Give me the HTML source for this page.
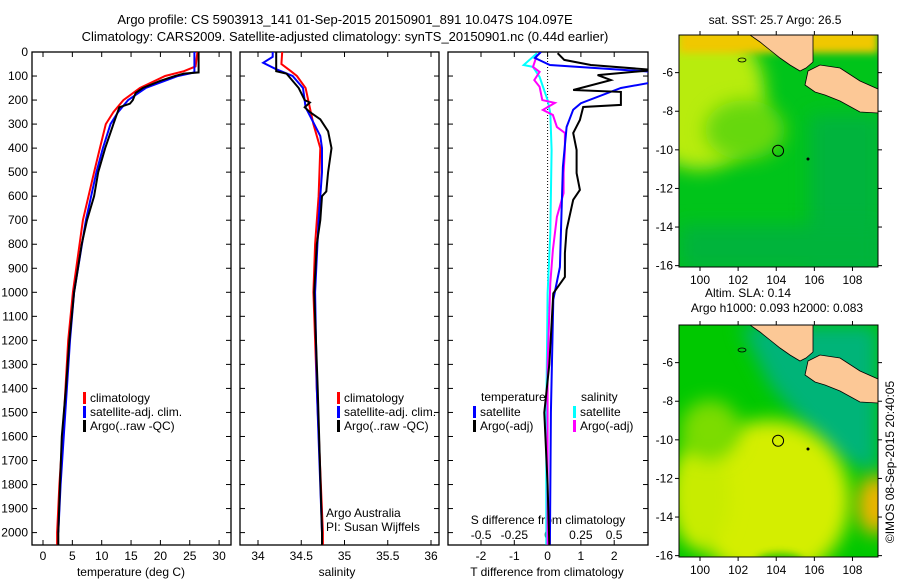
<!DOCTYPE html>
<html><head><meta charset="utf-8"><style>
body{margin:0;background:#fff}
svg{display:block;font-family:"Liberation Sans",sans-serif}
text{font-size:12px;fill:#000}
</style></head><body>
<svg id="fig" width="900" height="580" viewBox="0 0 900 580">
<defs>
<filter id="blur6" x="-50%" y="-50%" width="200%" height="200%"><feGaussianBlur stdDeviation="9"/></filter>
<filter id="blur3" x="-50%" y="-50%" width="200%" height="200%"><feGaussianBlur stdDeviation="4"/></filter>
<clipPath id="c1"><rect x="32" y="52" width="199" height="493"/></clipPath>
<clipPath id="c2"><rect x="240" y="52" width="199" height="493"/></clipPath>
<clipPath id="c3"><rect x="448" y="52" width="200" height="493"/></clipPath>
<clipPath id="m1"><rect x="679" y="35" width="199" height="232"/></clipPath>
<clipPath id="m2"><rect x="679" y="325" width="199" height="232"/></clipPath>
</defs>
<text x="345" y="24" text-anchor="middle" style="font-size:13px">Argo profile: CS 5903913_141 01-Sep-2015 20150901_891 10.047S 104.097E</text>
<text x="345" y="41" text-anchor="middle" style="font-size:13px">Climatology: CARS2009. Satellite-adjusted climatology: synTS_20150901.nc (0.44d earlier)</text>
<g id="p1"></g>
<g id="p2"></g>
<g id="p3"></g>
<g id="map1"></g>
<g id="map2"></g>
<text x="0" y="0" transform="translate(894,462) rotate(-90)" text-anchor="middle">©IMOS 08-Sep-2015 20:40:05</text>
</svg>
<script>
// ---- data ----
const depthTicks=[0,100,200,300,400,500,600,700,800,900,1000,1100,1200,1300,1400,1500,1600,1700,1800,1900,2000];
const tempTicks=[0,5,10,15,20,25,30];
const salTicks=[34,34.5,35,35.5,36];
const tdiffTicks=[-2,-1,0,1,2];
const sdiffTicks=[-0.5,-0.25,0,0.25,0.5];
const sdiffTickLabels=["-0.5","-0.25","0","0.25","0.5"];
const tArgoD=[0,85,90,100,120,150,170,200,215,230,300,400,500,600,700,800,1000,1200,1400,1600,1800,2000,2050];
const tArgoV=[26.5,26.5,24,22.5,20,17,15.8,15.3,14.8,13,12,10.6,9.4,8.7,7.5,6.6,5.3,4.5,3.9,3.2,2.9,2.6,2.6];
const tClimD=[0,60,80,100,150,200,250,300,400,500,700,1000,1200,1500,1800,2000,2050];
const tClimV=[26.3,26.0,24,20.8,16.5,13.7,12,10.7,9.7,8.7,6.8,5.1,4.3,3.6,2.8,2.4,2.4];
const tSatD=[0,85,100,150,200,250,300,400,500,700,1000,1200,1500,1800,2000];
const tSatV=[25.8,25.8,23,17.5,14.5,12.8,11.5,10.2,9.1,7.3,5.3,4.6,3.8,3.0,2.6];
const sArgoD=[0,80,90,150,200,210,230,250,280,330,400,500,580,600,700,800,1000,1400,2000,2050];
const sArgoV=[34.21,34.21,34.33,34.47,34.54,34.6,34.54,34.6,34.72,34.81,34.85,34.81,34.79,34.74,34.72,34.68,34.65,34.69,34.74,34.74];
const sClimD=[0,50,80,100,150,300,400,600,800,1000,1400,2000,2050];
const sClimV=[34.28,34.27,34.38,34.45,34.55,34.64,34.72,34.7,34.66,34.64,34.68,34.75,34.75];
const sSatD=[0,20,45,70,100,150,230,300,350,400,500,700,1000,1400,2000];
const sSatV=[34.17,34.17,34.06,34.2,34.4,34.52,34.55,34.65,34.72,34.74,34.74,34.7,34.66,34.68,34.74];
const dtSatD=[0,25,54,83,125,150,213,240,312,478,615,895,1030,1500,2050];
const dtSatV=[-0.2,-0.38,0.07,3.2,3.2,2.2,1.0,0.77,0.57,0.46,0.43,0.37,0.17,0.1,0.07];
const dtArgoD=[5,33,54,75,96,117,158,166,187,220,229,283,337,408,504,574,615,740,837,936,1004,1300,1500,1800,2050];
const dtArgoV=[0.3,0.5,1.3,3.2,1.5,1.9,0.77,2.2,2.2,2.2,1.07,0.97,0.77,0.87,0.87,0.97,0.77,0.57,0.52,0.52,0.17,0.05,-0.1,0.0,0.05];
const dsArgoD=[12,62,83,117,145,200,212,241,262,312,337,408,504,587,686,823,962,1300,2050];
const dsArgoV=[-0.08,-0.11,-0.06,-0.1,-0.06,-0.04,0.055,-0.035,0.04,0.07,0.13,0.13,0.12,0.12,0.07,0.04,0.02,0.0,0.0];
const dsSatD=[5,54,62,104,200,254,408,755,1004,1500,2050];
const dsSatV=[-0.08,-0.18,-0.11,-0.06,0,0.02,0.03,0.02,0.0,-0.01,-0.01];
const lonTicks=[100,102,104,106,108];
const latTicks=[-6,-8,-10,-12,-14,-16];
const argoLon=104.097, argoLat=-10.047;

// ---- helpers ----
const NS="http://www.w3.org/2000/svg";
function mk(parent,tag,attrs,txt){const e=document.createElementNS(NS,tag);for(const k in attrs)e.setAttribute(k,attrs[k]);if(txt!==undefined)e.textContent=txt;parent.appendChild(e);return e;}
const yD=d=>52+d*0.2403;
const xT=v=>43+v*5.87;
const xS=v=>258+(v-34)*86.5;
const xDT=v=>547.6+v*33.3;
const xDS=v=>547.6+v*133;
function frame(g,x0,x1){
  const r=mk(g,'rect',{x:x0,y:52,width:x1-x0,height:493,fill:'#fff',stroke:'#000','stroke-width':1.3});
  
  
  depthTicks.forEach(d=>{const y=yD(d);
    mk(g,'line',{x1:x0,x2:x0+5,y1:y,y2:y,stroke:'#000'});
    mk(g,'line',{x1:x1-5,x2:x1,y1:y,y2:y,stroke:'#000'});});
}
function line(g,D,V,fx,color,clip,name,w){
  const pts=D.map((d,i)=>fx(V[i]).toFixed(1)+','+yD(d).toFixed(1)).join(' ');
  const p=mk(g,'polyline',{points:pts,fill:'none',stroke:color,'stroke-width':w||2,'clip-path':'url(#'+clip+')'});
  
  
}
function legend(g,x,y,color,label){
  mk(g,'rect',{x:x,y:y-10,width:3,height:12,fill:color});
  const t=mk(g,'text',{x:x+7,y:y},label);
  
  
}
// ---- panel 1 ----
const p1=document.getElementById('p1');
frame(p1,32,231);
depthTicks.forEach(d=>{const t=mk(p1,'text',{x:28,y:yD(d)+4,'text-anchor':'end'},String(d));
  
  });
tempTicks.forEach(v=>{const x=xT(v);mk(p1,'line',{x1:x,x2:x,y1:545,y2:540,stroke:'#000'});mk(p1,'line',{x1:x,x2:x,y1:52,y2:57,stroke:'#000'});
  const t=mk(p1,'text',{x:x,y:560,'text-anchor':'middle'},String(v));
  
  });
const xl1=mk(p1,'text',{x:131,y:576,'text-anchor':'middle'},'temperature (deg C)');


line(p1,tClimD,tClimV,xT,'#f00','c1','temp-climatology-line');
line(p1,tSatD,tSatV,xT,'#00f','c1','temp-satellite-line');
line(p1,tArgoD,tArgoV,xT,'#000','c1','temp-argo-line');
legend(p1,83,402,'#f00','climatology');legend(p1,83,416,'#00f','satellite-adj. clim.');legend(p1,83,430,'#000','Argo(..raw -QC)');
// ---- panel 2 ----
const p2=document.getElementById('p2');
frame(p2,240,439);
salTicks.forEach(v=>{const x=xS(v);mk(p2,'line',{x1:x,x2:x,y1:545,y2:540,stroke:'#000'});mk(p2,'line',{x1:x,x2:x,y1:52,y2:57,stroke:'#000'});
  const t=mk(p2,'text',{x:x,y:560,'text-anchor':'middle'},String(v));
  
  });
const xl2=mk(p2,'text',{x:337,y:576,'text-anchor':'middle'},'salinity');


line(p2,sClimD,sClimV,xS,'#f00','c2','sal-climatology-line');
line(p2,sSatD,sSatV,xS,'#00f','c2','sal-satellite-line');
line(p2,sArgoD,sArgoV,xS,'#000','c2','sal-argo-line');
legend(p2,337,402,'#f00','climatology');legend(p2,337,416,'#00f','satellite-adj. clim.');legend(p2,337,430,'#000','Argo(..raw -QC)');
const a1=mk(p2,'text',{x:326,y:517},'Argo Australia');
const a2=mk(p2,'text',{x:326,y:531},'PI: Susan Wijffels');
// ---- panel 3 ----
const p3=document.getElementById('p3');
frame(p3,448,648);
mk(p3,'line',{x1:547.6,x2:547.6,y1:52,y2:545,stroke:'#000','stroke-dasharray':'1,2'});
tdiffTicks.forEach(v=>{const x=xDT(v);mk(p3,'line',{x1:x,x2:x,y1:545,y2:540,stroke:'#000'});mk(p3,'line',{x1:x,x2:x,y1:52,y2:57,stroke:'#000'});
  const t=mk(p3,'text',{x:x,y:560,'text-anchor':'middle'},String(v));
  
  });
sdiffTicks.forEach((v,i)=>{const x=xDS(v);
  const t=mk(p3,'text',{x:x,y:539,'text-anchor':'middle'},sdiffTickLabels[i]);
  
  });
const s3=mk(p3,'text',{x:548,y:524,'text-anchor':'middle'},'S difference from climatology');
const t3=mk(p3,'text',{x:547,y:576,'text-anchor':'middle'},'T difference from climatology');
line(p3,dsSatD,dsSatV,xDS,'#0ff','c3','sdiff-satellite-line');
line(p3,dsArgoD,dsArgoV,xDS,'#f0f','c3','sdiff-argo-line');
line(p3,dtSatD,dtSatV,xDT,'#00f','c3','tdiff-satellite-line');
line(p3,dtArgoD,dtArgoV,xDT,'#000','c3','tdiff-argo-line');
const lt=mk(p3,'text',{x:481,y:401},'temperature');
const ls=mk(p3,'text',{x:581,y:401},'salinity');
legend(p3,473,416,'#00f','satellite');legend(p3,473,430,'#000','Argo(-adj)');
legend(p3,573,416,'#0ff','satellite');legend(p3,573,430,'#f0f','Argo(-adj)');
// ---- maps ----
function drawMap(gid,top,clip,kind,t1,t2){
  const g=document.getElementById(gid);
  const mx=lon=>700+(lon-100)*19.06, my=lat=>top+(-4.05-lat)*19.3;
  const bg=mk(g,'g',{'clip-path':'url(#'+clip+')'});
  if(kind===1){
    mk(bg,'rect',{x:679,y:top,width:199,height:232,fill:'#00c41a'});
    mk(bg,'ellipse',{cx:700,cy:top+60,rx:65,ry:75,fill:'#b8ec10',filter:'url(#blur6)'});
    mk(bg,'ellipse',{cx:745,cy:top+95,rx:40,ry:30,fill:'#66d808',filter:'url(#blur6)'});
    mk(bg,'rect',{x:679,y:top-10,width:199,height:28,fill:'#f0c800',filter:'url(#blur3)'});
    mk(bg,'rect',{x:810,y:top+80,width:70,height:160,fill:'#00b43c',filter:'url(#blur6)'});
    mk(bg,'rect',{x:679,y:top+190,width:199,height:45,fill:'#00b43a',filter:'url(#blur6)'});
  } else {
    mk(bg,'rect',{x:679,y:top,width:199,height:232,fill:'#00c800'});
    mk(bg,'path',{d:`M740,${top} L878,${top} L878,${top+150} L830,${top+130} L770,${top+60} Z`,fill:'#00b478',filter:'url(#blur6)'});
    mk(bg,'ellipse',{cx:770,cy:top+175,rx:80,ry:80,fill:'#d4ee00',filter:'url(#blur6)'});
    mk(bg,'ellipse',{cx:700,cy:top+170,rx:30,ry:55,fill:'#c8ec00',filter:'url(#blur6)'});
    mk(bg,'ellipse',{cx:875,cy:top+180,rx:18,ry:30,fill:'#f0b400',filter:'url(#blur6)'});
    mk(bg,'ellipse',{cx:710,cy:top+105,rx:30,ry:30,fill:'#7cdc00',filter:'url(#blur6)'});
    mk(bg,'ellipse',{cx:780,cy:top+238,rx:25,ry:10,fill:'#30c800',filter:'url(#blur3)'});
  }
  const land=mk(bg,'path',{d:`M750,${top} L813,${top} L813,${top+27} L806,${top+33} L800,${top+36} L790,${top+30} L780,${top+23} L770,${top+15} L760,${top+7} Z M808,${top+36} L820,${top+30} L840,${top+33} L860,${top+46} L878,${top+54} L878,${top+78} L860,${top+77} L840,${top+66} L825,${top+60} L815,${top+57} L805,${top+50} Z`,fill:'#fcc896',stroke:'#000','stroke-width':0.8});
  
  
  mk(bg,'ellipse',{cx:742,cy:top+25,rx:4,ry:2,fill:'none',stroke:'#000','stroke-width':0.8});
  mk(bg,'circle',{cx:808,cy:top+124,r:1.5,fill:'#000'});
  const c=mk(g,'circle',{cx:mx(argoLon),cy:my(argoLat),r:5.5,fill:'none',stroke:'#000','stroke-width':1});
  
  
  mk(g,'rect',{x:679,y:top,width:199,height:232,fill:'none',stroke:'#000'});
  lonTicks.forEach(v=>{const x=mx(v);mk(g,'line',{x1:x,x2:x,y1:top-4,y2:top,stroke:'#000'});mk(g,'line',{x1:x,x2:x,y1:top+232,y2:top+236,stroke:'#000'});
    const t=mk(g,'text',{x:x,y:top+249,'text-anchor':'middle'},String(v));
    
    });
  latTicks.forEach(v=>{const y=my(v);mk(g,'line',{x1:675,x2:679,y1:y,y2:y,stroke:'#000'});mk(g,'line',{x1:878,x2:882,y1:y,y2:y,stroke:'#000'});
    const t=mk(g,'text',{x:673,y:y+4,'text-anchor':'end'},String(v));
    
    });
  if(t2){
    const a=mk(g,'text',{x:748,y:top-28,'text-anchor':'middle'},t1);
    const b=mk(g,'text',{x:777,y:top-13,'text-anchor':'middle'},t2);
  } else {
    const a=mk(g,'text',{x:775,y:top-11,'text-anchor':'middle'},t1);
  }
}
drawMap('map1',35,'m1',1,'sat. SST: 25.7 Argo: 26.5');
drawMap('map2',325,'m2',2,'Altim. SLA: 0.14','Argo h1000: 0.093 h2000: 0.083');
</script>
</body></html>
